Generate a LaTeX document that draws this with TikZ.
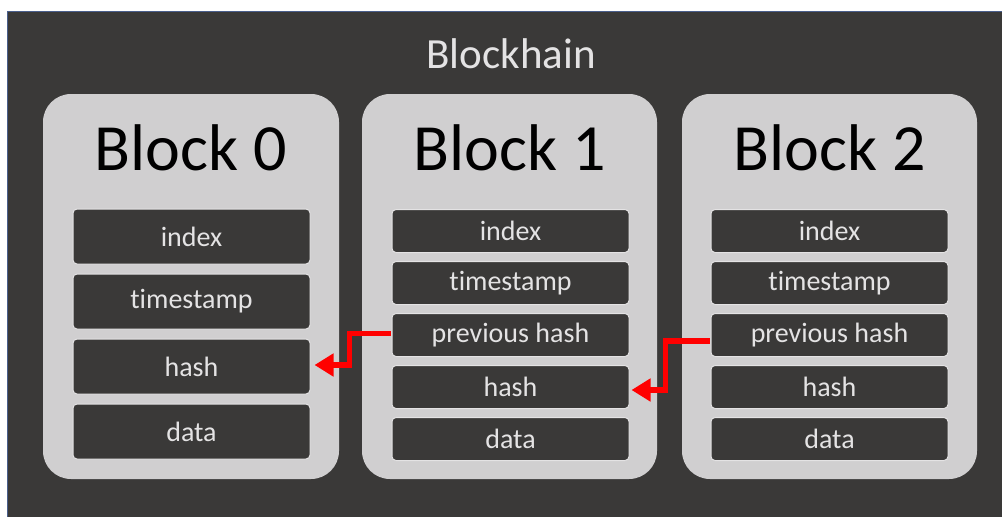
\documentclass[tikz,border=0pt]{standalone}
\usepackage{fontspec}
\setmainfont{Carlito}[Ligatures={NoCommon,NoRare,NoContextual}]
\usetikzlibrary{arrows.meta,calc}
\definecolor{panel}{HTML}{3A3938}
\definecolor{card}{HTML}{D0CFD0}
\definecolor{fieldline}{HTML}{E4E3E4}
\definecolor{edgeblue}{HTML}{4A5F8C}
\definecolor{linkred}{HTML}{FF0000}
\begin{document}
\begin{tikzpicture}[x=1pt,y=-1pt,
  blockcard/.style={fill=card,draw=none,rounded corners=28pt},
  fieldbox/.style={fill=panel,draw=fieldline,line width=1pt,rounded corners=4pt,
    minimum width=237pt,inner sep=0pt,text=fieldline,
    font=\fontsize{28}{31}\selectfont},
  tall/.style={fieldbox,minimum height=55pt},
  short/.style={fieldbox,minimum height=43pt},
  blocktitle/.style={anchor=base,text=black,font=\fontsize{66}{70}\selectfont},
  link/.style={draw=linkred,line width=5.5pt,
    -{Triangle[length=19pt,width=22pt]}}]
\useasboundingbox (0,0) rectangle (1002,517);
\fill[white] (0,0) rectangle (1002,517);
% dark panel with thin blue edge on top and left
\fill[panel] (7,11) rectangle (1002,517);
\draw[edgeblue,line width=1pt] (7,517) -- (7,11) -- (1002,11);
\node[anchor=base,text=fieldline,font=\fontsize{43}{48}\selectfont] (title) at (511,68) {Blockhain};

% the three blocks
\fill[blockcard] (43,94) rectangle (339,479);
\fill[blockcard] (362,94) rectangle (657,479);
\fill[blockcard] (682,94) rectangle (977,479);
\node[blocktitle] (t0) at (191,170) {Block 0};
\node[blocktitle] (t1) at (510,170) {Block 1};
\node[blocktitle] (t2) at (830,170) {Block 2};

% Block 0 fields
\node[tall] (i0) at (191.5,236.5) {index};
\node[tall] (s0) at (191.5,301.5) {timestamp};
\node[tall] (h0) at (191.5,366.5) {hash};
\node[tall] (d0) at (191.5,431.5) {data};

% Block 1 fields
\node[short] (i1) at (510.5,231) {index};
\node[short] (s1) at (510.5,283) {timestamp};
\node[short] (p1) at (510.5,335) {previous hash};
\node[short] (h1) at (510.5,387) {hash};
\node[short] (d1) at (510.5,439) {data};

% Block 2 fields
\node[short] (i2) at (829.5,231) {index};
\node[short] (s2) at (829.5,283) {timestamp};
\node[short] (p2) at (829.5,335) {previous hash};
\node[short] (h2) at (829.5,387) {hash};
\node[short] (d2) at (829.5,439) {data};

% previous-hash links
\draw[link] ([xshift=-1pt,yshift=1.5pt]p1.west) -- ++(-41,0) |- ([xshift=4pt,yshift=1.5pt]h0.east);
\draw[link] ([xshift=-1pt,yshift=-6pt]p2.west) -- ++(-44,0) |- ([xshift=2pt,yshift=-3pt]h1.east);
\end{tikzpicture}
\end{document}
